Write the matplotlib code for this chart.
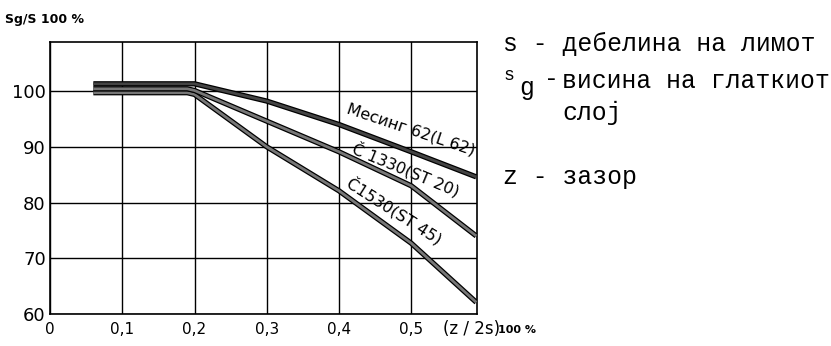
import matplotlib
matplotlib.use("Agg")
import matplotlib.pyplot as plt
import matplotlib.patheffects as pe

# ---- data ----
x_ticks = [0, 0.1, 0.2, 0.3, 0.4, 0.5]
x_tick_labels = ["0", "0,1", "0,2", "0,3", "0,4", "0,5"]
y_ticks = [60, 70, 80, 90, 100]
y_tick_labels = ["60", "70", "80", "90", "100"]

mesing_x = [0.06, 0.2, 0.3, 0.4, 0.5, 0.59]
mesing_y = [101.3, 101.3, 98.2, 94.0, 89.1, 84.6]

c1330_x = [0.06, 0.19, 0.2, 0.3, 0.4, 0.5, 0.59]
c1330_y = [100.4, 100.4, 100.1, 94.6, 89.1, 83.0, 74.0]

c1530_x = [0.06, 0.19, 0.2, 0.3, 0.4, 0.5, 0.59]
c1530_y = [99.7, 99.7, 99.4, 90.0, 82.1, 72.7, 62.1]

labels = ["Месинг 62(L 62)", "Č 1330(ST 20)", "Č1530(ST 45)"]

W, H = 831, 346
fig = plt.figure(figsize=(W / 100, H / 100), dpi=100)
ax = fig.add_axes([50 / W, 1 - 314 / H, (477 - 50) / W, (314 - 42) / H])
ax.set_xlim(0, 0.591)
ax.set_ylim(60, 108.8)

ax.set_xticks(x_ticks)
ax.set_xticklabels(x_tick_labels)
ax.set_yticks(y_ticks)
ax.set_yticklabels(y_tick_labels)
ax.tick_params(axis="y", length=0, pad=3)
ax.tick_params(axis="x", length=0, pad=6)
for lab in ax.get_yticklabels():
    lab.set_fontsize(13)
for lab in ax.get_xticklabels():
    lab.set_fontsize(11)
ax.grid(True, color="black", linewidth=1.0)
ax.set_axisbelow(True)
for s in ax.spines.values():
    s.set_linewidth(1.2)

eff = [pe.Stroke(linewidth=3.8, foreground="black"), pe.Normal()]
for xs, ys in [(c1530_x, c1530_y), (c1330_x, c1330_y)]:
    ax.plot(xs, ys, color="#777777", linewidth=2.0, solid_joinstyle="round",
            solid_capstyle="butt", path_effects=eff, zorder=3)
ax.plot(mesing_x, mesing_y, color="#444444", linewidth=2.0, solid_capstyle="butt",
        path_effects=eff, zorder=4)

lab_kw = dict(fontsize=11.5, rotation_mode="anchor", ha="left", va="baseline", zorder=5)
ax.text(0.409, 96.1, labels[0], rotation=-18.5, **lab_kw)
ax.text(0.416, 88.9, labels[1], rotation=-22.6, **lab_kw)
ax.text(0.409, 82.9, labels[2], rotation=-32.6, **lab_kw)

# axis titles
fig.text(5 / W, 1 - 19 / H, "Sg/S 100 %", fontsize=9, fontweight="bold", va="center")
fig.text(443 / W, 1 - 329 / H, "(z / 2s)", fontsize=12, va="center")
fig.text(498 / W, 1 - 330 / H, "100 %", fontsize=8, fontweight="bold", va="center")

# right-hand legend text (typewriter)
mono = dict(family="Liberation Mono", fontsize=17.8, va="center")
fig.text(503 / W, 1 - 44 / H, "s - дебелина на лимот", **mono)
fig.text(504 / W, 1 - 76 / H, "s", family="Liberation Mono", fontsize=13, va="center")
fig.text(519 / W, 1 - 88 / H, "g", family="Liberation Mono", fontsize=17.8, va="center")
fig.text(544 / W, 1 - 79 / H, "-", **mono)
fig.text(562 / W, 1 - 81 / H, "висина на глаткиот", **mono)
fig.text(562 / W, 1 - 113 / H, "слој", **mono)
fig.text(503 / W, 1 - 177 / H, "z - зазор", **mono)

fig.savefig("out.png", dpi=100)
